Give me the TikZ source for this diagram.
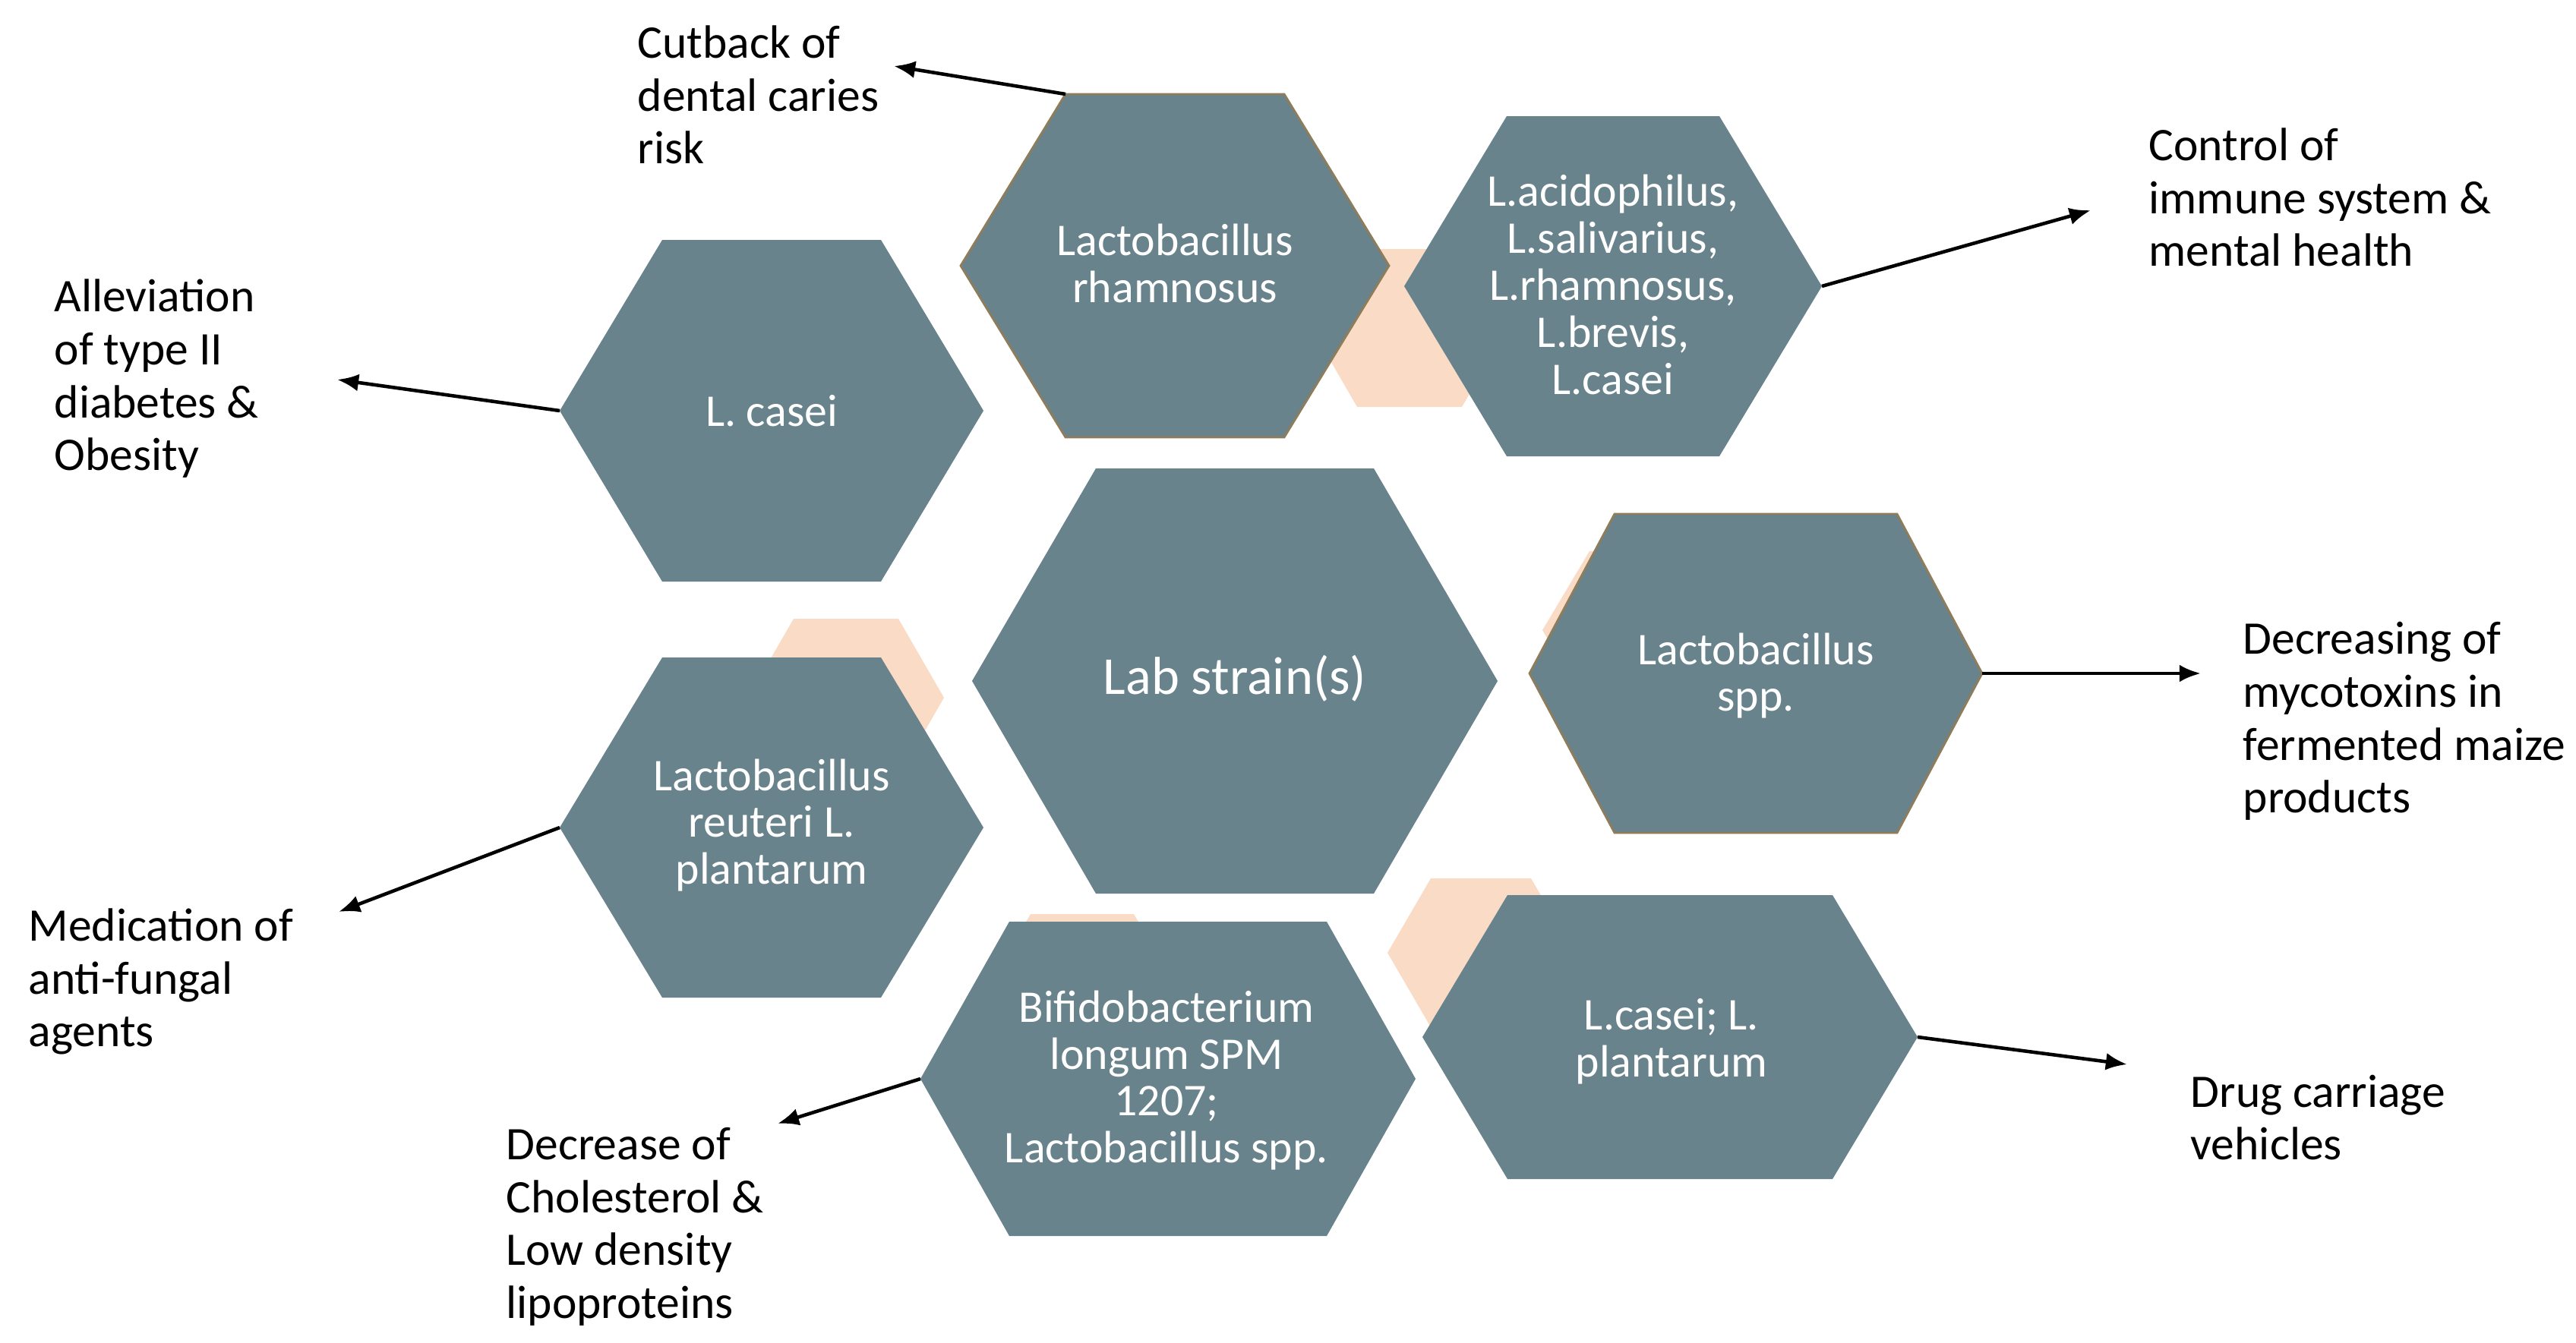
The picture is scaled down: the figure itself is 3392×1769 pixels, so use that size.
\documentclass[tikz,border=0pt]{standalone}
\usepackage{fontspec}
\setmainfont{Carlito}
\usetikzlibrary{arrows.meta}
\definecolor{slate}{HTML}{68838C}
\definecolor{peach}{HTML}{FADCC6}
\definecolor{rim}{HTML}{8E7C5A}
% name, style, cx, cy, half width, half height, corner offset
\newcommand\hexcell[7]{%
  \path[#2] (#3-#5,#4) coordinate (#1-w)
    -- (#3-#5+#7,#4-#6) coordinate (#1-nw)
    -- (#3+#5-#7,#4-#6) coordinate (#1-ne)
    -- (#3+#5,#4) coordinate (#1-e)
    -- (#3+#5-#7,#4+#6) coordinate (#1-se)
    -- (#3-#5+#7,#4+#6) coordinate (#1-sw)
    -- cycle;}
\tikzset{
  strain/.style={fill=slate},
  rimmed/.style={fill=slate, draw=rim, line width=0.8pt},
  accent/.style={fill=peach},
  hexlabel/.style={text=white, align=center, inner sep=0pt,
    font=\fontsize{17}{17.6}\selectfont},
  effect/.style={text=black, align=left, anchor=west, inner sep=0pt,
    font=\fontsize{17.5}{19.8}\selectfont},
  effectarrow/.style={-{Latex[length=8pt,width=6.5pt]}, line width=1.3pt},
}
\begin{document}
\begin{tikzpicture}[x=0.01cm, y=-0.01cm]
    \useasboundingbox (0,0) rectangle (3392,1769);

    \hexcell{pa}{accent}{1856}{432}{129}{104}{60}
    \hexcell{pb}{accent}{1114}{919}{129}{104}{60}
    \hexcell{pc}{accent}{2160}{830}{129}{104}{62}
    \hexcell{pd}{accent}{1950}{1255}{123}{98}{57}
    \hexcell{pe}{accent}{1425}{1302}{125}{98}{57}

    \hexcell{rham}{rimmed}{1547}{350}{282}{226}{138}
    \hexcell{acid}{strain}{2124}{377}{275}{224}{135}
    \hexcell{casei}{strain}{1016}{541}{279}{225}{135}
    \hexcell{lab}{strain}{1626}{897}{346}{280}{163}
    \hexcell{spp}{rimmed}{2312}{887}{298}{210}{112}
    \hexcell{reut}{strain}{1016}{1090}{279}{224}{135}
    \hexcell{bifi}{strain}{1538}{1421}{326}{207}{117}
    \hexcell{plant}{strain}{2199}{1366}{326}{187}{112}

    \node[hexlabel] (rhamtxt) at (1547,347) {Lactobacillus\\rhamnosus};
    \node[hexlabel] (acidtxt) at (2124,375) {L.acidophilus,\\L.salivarius,\\L.rhamnosus,\\L.brevis,\\L.casei};
    \node[hexlabel] (caseitxt) at (1016,541) {L. casei};
    \node[hexlabel, font=\fontsize{20}{24}\selectfont] (labtxt) at (1626,894) {Lab strain(s)};
    \node[hexlabel] (spptxt) at (2312,890) {Lactobacillus\\spp.};
    \node[hexlabel] (reuttxt) at (1016,1087) {Lactobacillus\\reuteri L.\\plantarum};
    \node[hexlabel] (bifitxt) at (1536,1423) {Bifidobacterium\\longum SPM\\1207;\\Lactobacillus spp.};
    \node[hexlabel] (planttxt) at (2201,1372) {L.casei; L.\\plantarum};

    \node[effect] (caries) at (839,125) {Cutback of\\dental caries\\risk};
    \node[effect] (diabetes) at (71,499) {Alleviation\\of type II\\diabetes \&\\Obesity};
    \node[effect] (immune) at (2829,260) {Control of\\immune system \&\\mental health};
    \node[effect] (myco) at (2953,950) {Decreasing of\\mycotoxins in\\fermented maize\\products};
    \node[effect] (fungal) at (37,1293) {Medication of\\anti-fungal\\agents};
    \node[effect] (chol) at (666,1616) {Decrease of\\Cholesterol \&\\Low density\\lipoproteins};
    \node[effect] (drug) at (2884,1472) {Drug carriage\\vehicles};

    \coordinate (caries-tip) at (1177,87);
    \coordinate (diabetes-tip) at (444,500);
    \coordinate (immune-tip) at (2753,277);
    \coordinate (myco-tip) at (2898,887);
    \coordinate (fungal-tip) at (446,1201);
    \coordinate (chol-tip) at (1024,1480);
    \coordinate (drug-tip) at (2801,1402);

    \draw[effectarrow] (rham-nw) -- (caries-tip);
    \draw[effectarrow] (casei-w) -- (diabetes-tip);
    \draw[effectarrow] (acid-e) -- (immune-tip);
    \draw[effectarrow] (spp-e) -- (myco-tip);
    \draw[effectarrow] (reut-w) -- (fungal-tip);
    \draw[effectarrow] (bifi-w) -- (chol-tip);
    \draw[effectarrow] (plant-e) -- (drug-tip);
\end{tikzpicture}
\end{document}
